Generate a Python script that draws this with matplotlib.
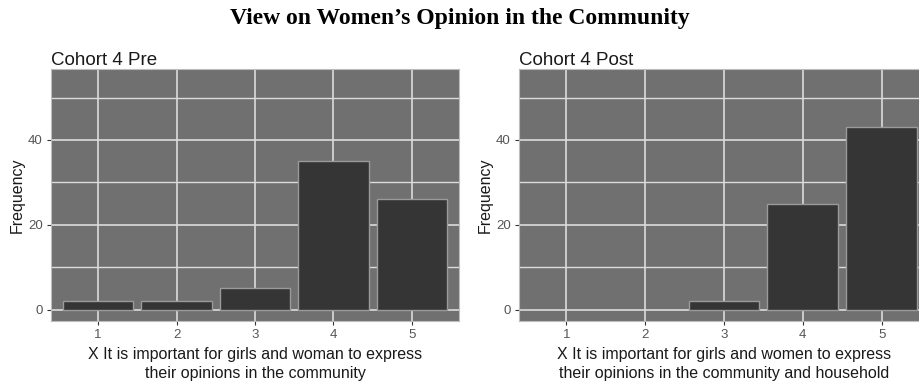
import matplotlib
matplotlib.use("Agg")
import matplotlib.pyplot as plt
from matplotlib.ticker import MultipleLocator

# Response counts per Likert level
levels = [1, 2, 3, 4, 5]
pre_counts = [2, 2, 5, 35, 26]
post_counts = [0, 0, 2, 25, 43]

pre_title = "Cohort 4 Pre"
post_title = "Cohort 4 Post"
pre_xlabel = "X It is important for girls and woman to express\ntheir opinions in the community"
post_xlabel = "X It is important for girls and women to express\ntheir opinions in the community and household"
suptitle = "View on Women\u2019s Opinion in the Community"

PANEL = "#707070"
GRID = "#dcdcdc"
BAR = "#353535"
EDGE = "#9a9a9a"
TICK = "#555555"

plt.rcParams["font.family"] = ["Liberation Sans", "DejaVu Sans"]


def draw_panel(ax, counts, title, xlabel):
    ax.set_facecolor(PANEL)
    # empty levels get no bar at all
    xs = [x for x, c in zip(levels, counts) if c > 0]
    hs = [c for c in counts if c > 0]
    ax.bar(xs, hs, width=0.9, color=BAR, edgecolor=EDGE, linewidth=1.0, zorder=3)
    ax.set_xlim(0.4, 5.6)
    ax.set_ylim(-2.7, 56.7)
    ax.set_xticks(levels)
    ax.yaxis.set_major_locator(MultipleLocator(20))
    ax.yaxis.set_minor_locator(MultipleLocator(10))
    ax.grid(True, which="major", color=GRID, linewidth=1.2, zorder=1)
    ax.grid(True, which="minor", axis="y", color=GRID, linewidth=1.0, zorder=1)
    for s in ax.spines.values():
        s.set_color("#bdbdbd")
        s.set_linewidth(0.8)
    ax.tick_params(which="major", length=3, width=0.8, color="#333333",
                   labelcolor=TICK, labelsize=9.5, pad=3)
    ax.tick_params(which="minor", length=0)
    ax.set_title(title, loc="left", fontsize=13.5, color="#1a1a1a", pad=3)
    ax.set_xlabel(xlabel, fontsize=11.5, color="#1a1a1a", labelpad=4, linespacing=1.3)
    ax.set_ylabel("Frequency", fontsize=11.5, color="#1a1a1a", labelpad=2)


fig = plt.figure(figsize=(9.2, 3.85), dpi=100)
ax1 = fig.add_axes([0.0554, 0.166, 0.4435, 0.6545])
ax2 = fig.add_axes([0.5641, 0.166, 0.4457, 0.6545])

draw_panel(ax1, pre_counts, pre_title, pre_xlabel)
draw_panel(ax2, post_counts, post_title, post_xlabel)

fig.text(0.5, 0.953, suptitle, ha="center", va="center", fontsize=17,
         fontweight="bold", family="Liberation Serif")

fig.savefig("out.png", dpi=100)
plt.close(fig)
